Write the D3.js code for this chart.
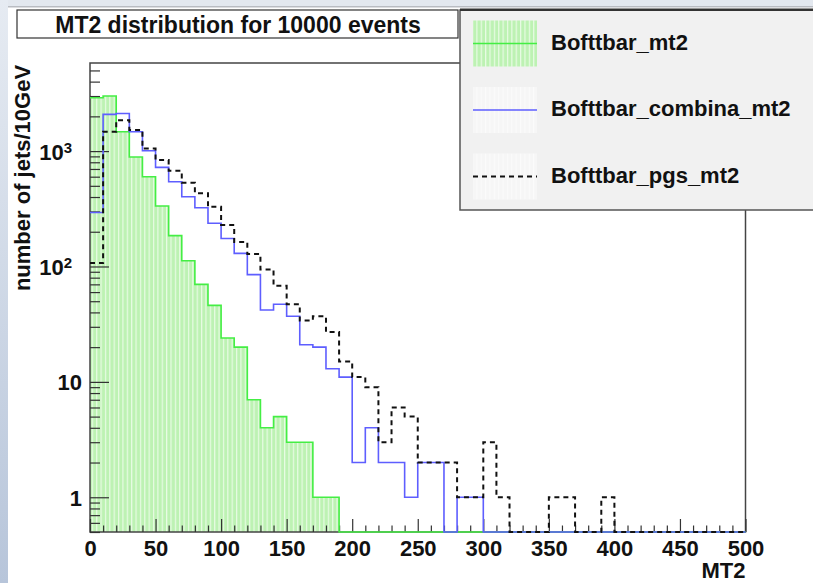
<!DOCTYPE html>
<html>
<head>
<meta charset="utf-8">
<script src="https://cdn.jsdelivr.net/npm/d3@7"></script>
<style>
body { margin: 0; background: #fff; }
text { font-family: "Liberation Sans", Helvetica, Arial, sans-serif; font-weight: bold; fill: #111; }
</style>
</head>
<body>
<script>
// MT2 histograms, 10 GeV bins from 0 to 500
var binWidth = 10;
var mt2Pure = [2900, 3000, 1470, 890, 600, 334, 185, 112, 70, 46, 24, 20, 7, 4, 5, 3, 3, 1, 1, 0,
	0, 0, 0, 0, 0, 0, 0, 0, 0, 0, 0, 0, 0, 0, 0, 0, 0, 0, 0, 0, 0, 0, 0, 0, 0, 0, 0, 0, 0, 0];
var mt2Combina = [294, 2080, 2120, 1470, 1006, 723, 542, 402, 323, 237, 175, 130, 85, 42, 47, 37, 21, 20, 13, 11,
	2, 4, 2, 2, 1, 2, 2, 0, 1, 1, 0, 0, 0, 0, 0, 0, 0, 0, 0, 0, 0, 0, 0, 0, 0, 0, 0, 0, 0, 0];
var mt2Pgs = [107, 1470, 1855, 1520, 1055, 836, 675, 532, 432, 329, 229, 163, 128, 94, 68, 47, 34, 37, 27, 15,
	11, 9, 3, 6, 5, 2, 2, 2, 1, 1, 3, 1, 0, 0, 0, 1, 1, 0, 0, 1, 0, 0, 0, 0, 0, 0, 0, 0, 0, 0];

var seriesNames = ["Bofttbar_mt2", "Bofttbar_combina_mt2", "Bofttbar_pgs_mt2"];
var xTicks = [0, 50, 100, 150, 200, 250, 300, 350, 400, 450, 500];
var yTicks = [1, 10, 100, 1000];
var yTickLabels = [["1", ""], ["10", ""], ["10", "2"], ["10", "3"]];

var W = 813, H = 583;
var plot = {left: 90, right: 745.5, top: 63, bottom: 532};
var yMin = 0.5, yMax = 5800;

var x = d3.scaleLinear().domain([0, 500]).range([plot.left, plot.right]);
var y = d3.scaleLog().domain([yMin, yMax]).range([plot.bottom, plot.top]);

var svg = d3.select("body").append("svg")
	.attr("width", W)
	.attr("height", H);

var defs = svg.append("defs");
var grad = defs.append("linearGradient")
	.attr("id", "side")
	.attr("x1", 0).attr("y1", 0).attr("x2", 0).attr("y2", 1);
grad.append("stop").attr("offset", "0").attr("stop-color", "#e6ebf2");
grad.append("stop").attr("offset", "1").attr("stop-color", "#b7c5da");

var hatch = defs.append("pattern")
	.attr("id", "hatch")
	.attr("patternUnits", "userSpaceOnUse")
	.attr("width", 4.37)
	.attr("height", 4);
hatch.append("rect").attr("width", 4.37).attr("height", 4).attr("fill", "#bdf2b3");
hatch.append("rect").attr("x", 0).attr("width", 1.2).attr("height", 4).attr("fill", "#e8fbe4");

var faint = defs.append("pattern")
	.attr("id", "faint")
	.attr("patternUnits", "userSpaceOnUse")
	.attr("width", 4.37)
	.attr("height", 4);
faint.append("rect").attr("width", 4.37).attr("height", 4).attr("fill", "#f6f6f6");
faint.append("rect").attr("width", 1.2).attr("height", 4).attr("fill", "#fbfbfb");

// window background
svg.append("rect").attr("width", W).attr("height", H).attr("fill", "#fff");
svg.append("rect").attr("width", W).attr("height", 7).attr("fill", "#e3e8ef");
svg.append("rect").attr("y", 6).attr("width", W).attr("height", 1.5).attr("fill", "#b9bcc2");
svg.append("rect").attr("width", 8).attr("height", H).attr("fill", "url(#side)");

// histogram helpers
function stepPoints(vals) {
	var pts = [];
	vals.forEach(function(v, i) {
		pts.push([i * binWidth, v]);
		pts.push([(i + 1) * binWidth, v]);
	});
	return pts;
}
function yc(v) { return y(Math.max(v, yMin)); }

var line = d3.line()
	.x(function(d) { return x(d[0]); })
	.y(function(d) { return yc(d[1]); });

var area = d3.area()
	.x(function(d) { return x(d[0]); })
	.y0(y(yMin))
	.y1(function(d) { return yc(d[1]); });

// filled histogram
svg.append("path")
	.attr("d", area(stepPoints(mt2Pure)))
	.attr("fill", "url(#hatch)");

// frame
svg.append("rect")
	.attr("x", plot.left)
	.attr("y", plot.top)
	.attr("width", plot.right - plot.left)
	.attr("height", plot.bottom - plot.top)
	.attr("fill", "none")
	.attr("stroke", "#444")
	.attr("stroke-width", 1.5);

// AXIS ticks (ROOT style, pointing inwards)
var yMinor = [];
[0.1, 1, 10, 100, 1000].forEach(function(dec) {
	for (var k = 2; k <= 9; k++) {
		var v = dec * k;
		if (v >= yMin && v <= yMax) yMinor.push(v);
	}
});

svg.append("g")
	.attr("class", "y-minor")
	.attr("transform", "translate(" + plot.left + ",0)")
	.call(d3.axisLeft(y).tickValues(yMinor).tickSize(-10).tickFormat(""));

var yAxis = svg.append("g")
	.attr("class", "y-axis")
	.attr("transform", "translate(" + plot.left + ",0)")
	.call(d3.axisLeft(y).tickValues(yTicks).tickSize(-19).tickPadding(8).tickFormat(""));

yAxis.selectAll(".tick").append("text")
	.attr("x", -8)
	.attr("dy", "0.36em")
	.attr("text-anchor", "end")
	.style("font-size", "22px")
	.each(function(d, i) {
		var lab = yTickLabels[i];
		var t = d3.select(this);
		if (lab[1]) {
			t.attr("x", -18);
			t.append("tspan").text(lab[0]);
			t.append("tspan").attr("dy", "-0.45em").style("font-size", "15px").text(lab[1]);
		} else {
			t.text(lab[0]);
		}
	});

var xMinor = [];
for (var m = 0; m <= 500; m += binWidth) { if (xTicks.indexOf(m) < 0) xMinor.push(m); }

svg.append("g")
	.attr("class", "x-minor")
	.attr("transform", "translate(0," + plot.bottom + ")")
	.call(d3.axisBottom(x).tickValues(xMinor).tickSize(-6.5).tickFormat(""));

svg.append("g")
	.attr("class", "x-axis")
	.attr("transform", "translate(0," + plot.bottom + ")")
	.call(d3.axisBottom(x).tickValues(xTicks).tickSize(-13).tickPadding(8).tickFormat(d3.format("d")))
	.selectAll("text")
	.style("font-size", "22px")
	.attr("fill", "#111");

svg.selectAll(".domain").remove();
svg.selectAll(".tick line").attr("stroke", "#333").attr("stroke-width", 1.2);

// outlines
svg.append("path")
	.attr("d", line(stepPoints(mt2Pure)))
	.attr("fill", "none")
	.attr("stroke", "#44ee44")
	.attr("stroke-width", 1.6);

svg.append("path")
	.attr("d", line(stepPoints(mt2Combina)))
	.attr("fill", "none")
	.attr("stroke", "#5e5eff")
	.attr("stroke-width", 1.6);

svg.append("path")
	.attr("d", line(stepPoints(mt2Pgs)))
	.attr("fill", "none")
	.attr("stroke", "#111")
	.attr("stroke-width", 2)
	.attr("stroke-dasharray", "5,4");

// TITLE
svg.append("rect")
	.attr("x", 17).attr("y", 10)
	.attr("width", 441).attr("height", 28)
	.attr("fill", "#fff")
	.attr("stroke", "#333")
	.attr("stroke-width", 1.2);
svg.append("text")
	.attr("x", 238)
	.attr("y", 33)
	.attr("text-anchor", "middle")
	.style("font-size", "23px")
	.text("MT2 distribution for 10000 events");

// AXIS LABELS
svg.append("text")
	.attr("x", plot.right)
	.attr("y", 578)
	.attr("text-anchor", "end")
	.style("font-size", "22px")
	.text("MT2");

svg.append("text")
	.attr("transform", "rotate(-90)")
	.attr("x", -178)
	.attr("y", 30)
	.attr("text-anchor", "middle")
	.style("font-size", "22px")
	.text("number of jets/10GeV");

// LEGEND
var leg = svg.append("g").attr("class", "legend");
leg.append("rect")
	.attr("x", 460).attr("y", 10)
	.attr("width", 360).attr("height", 200)
	.attr("fill", "#f1f1f1")
	.attr("stroke", "#555")
	.attr("stroke-width", 1.5);
leg.append("rect")
	.attr("x", 460).attr("y", 8.5)
	.attr("width", 360).attr("height", 2.5)
	.attr("fill", "#333");

var rowY = [43.5, 110, 176.5];
var swatchFill = ["url(#hatch)", "url(#faint)", "url(#faint)"];
var rows = leg.selectAll(".row")
	.data(seriesNames)
	.enter().append("g")
	.attr("class", "row")
	.attr("transform", function(d, i) { return "translate(0," + rowY[i] + ")"; });

rows.append("rect")
	.attr("x", 473).attr("y", -23)
	.attr("width", 64).attr("height", 46)
	.attr("fill", function(d, i) { return swatchFill[i]; });

rows.append("line")
	.attr("x1", 473).attr("x2", 537)
	.attr("stroke", function(d, i) { return ["#44ee44", "#5e5eff", "#111"][i]; })
	.attr("stroke-width", function(d, i) { return i == 2 ? 2 : 1.6; })
	.attr("stroke-dasharray", function(d, i) { return i == 2 ? "5,4" : null; });

rows.append("text")
	.attr("x", 551)
	.attr("y", 6)
	.style("font-size", "22px")
	.text(function(d) { return d; });
</script>
</body>
</html>
